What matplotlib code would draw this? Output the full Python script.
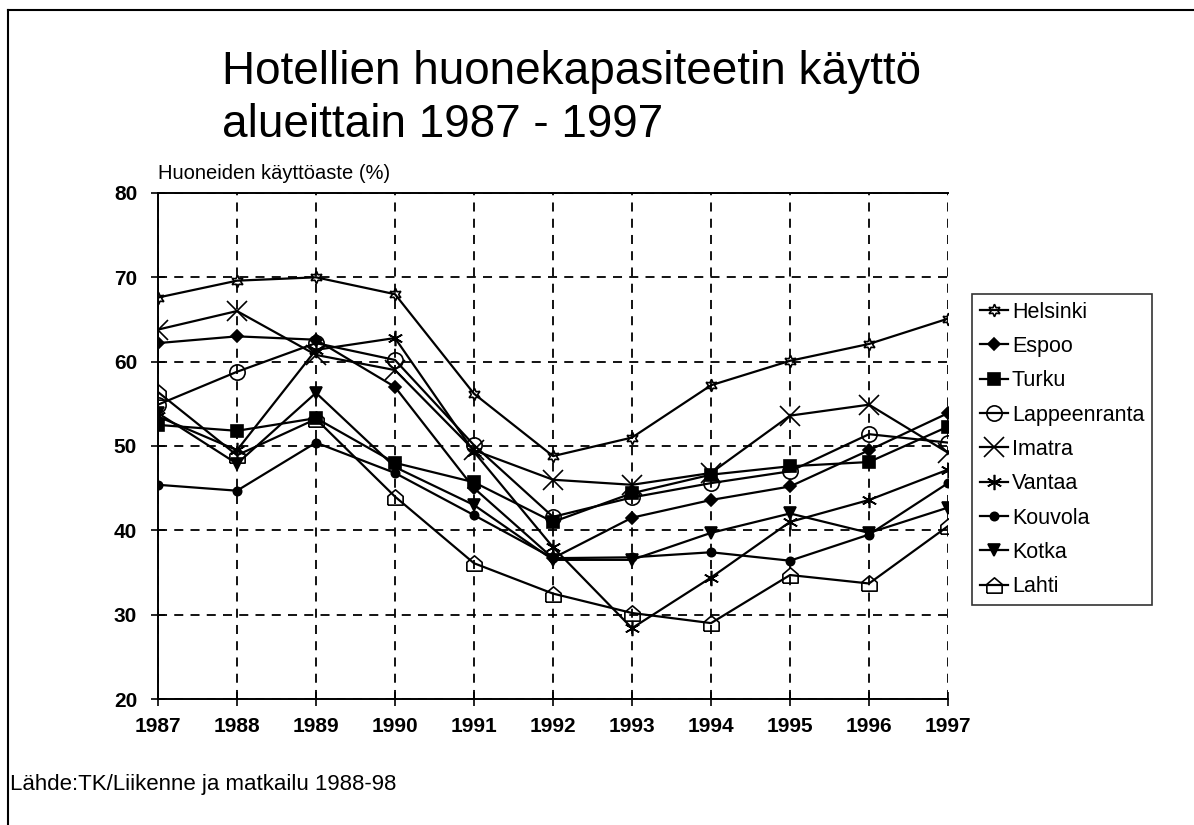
import numpy as np
import matplotlib
matplotlib.use("Agg")
import matplotlib.pyplot as plt
from matplotlib.lines import Line2D

plt.rcParams['font.family'] = ['Liberation Sans', 'DejaVu Sans']

# vuodet ja alueiden käyttöasteet (%)
vuodet = [1987, 1988, 1989, 1990, 1991, 1992, 1993, 1994, 1995, 1996, 1997]
helsinki = [67.6, 69.6, 70.0, 68.0, 56.2, 48.8, 51.0, 57.2, 60.1, 62.1, 65.1]
espoo = [62.2, 63.0, 62.6, 57.0, 45.0, 36.7, 41.5, 43.6, 45.2, 49.5, 53.9]
turku = [52.5, 51.8, 53.3, 48.0, 45.7, 41.0, 44.4, 46.6, 47.6, 48.1, 52.3]
lappeenranta = [54.9, 58.8, 62.2, 60.2, 50.1, 41.6, 43.9, 45.6, 47.0, 51.4, 50.4]
imatra = [63.8, 66.0, 60.8, 59.0, 49.5, 46.0, 45.4, 46.8, 53.6, 54.9, 49.2]
vantaa = [53.5, 49.5, 61.4, 62.8, 49.3, 38.0, 28.4, 34.4, 41.0, 43.6, 47.2]
kouvola = [45.4, 44.7, 50.4, 46.8, 41.8, 36.7, 36.8, 37.4, 36.4, 39.5, 45.6]
kotka = [53.9, 47.9, 56.3, 47.5, 43.0, 36.5, 36.5, 39.7, 42.0, 39.7, 42.7]
lahti = [56.4, 48.9, 53.2, 44.0, 36.1, 32.5, 30.2, 29.0, 34.7, 33.7, 40.5]

alueet = ["Helsinki", "Espoo", "Turku", "Lappeenranta", "Imatra",
          "Vantaa", "Kouvola", "Kotka", "Lahti"]
sarjat = [helsinki, espoo, turku, lappeenranta, imatra, vantaa, kouvola, kotka, lahti]

# talon muotoinen merkki Lahdelle
talo = [(-1, -1), (1, -1), (1, 0.15), (0, 1), (-1, 0.15), (-1, -1)]

# merkit: (muoto, koko, täyttö)
merkit = [
    ((6, 1, 0), 9, 'none'),
    ('D', 6, 'black'),
    ('s', 9, 'black'),
    ('o', 11, 'none'),
    ('x', 14, 'none'),
    ((6, 2, 0), 11, 'none'),
    ('o', 6, 'black'),
    ('v', 9, 'black'),
    (talo, 11, 'none'),
]

fig = plt.figure(figsize=(11.94, 8.25), dpi=100)
ax = fig.add_axes([0.1323, 0.1527, 0.6617, 0.6134])

for nimi, arvot, (m, ms, fc) in zip(alueet, sarjat, merkit):
    ax.plot(vuodet, arvot, color='black', lw=1.6, marker=m, markersize=ms,
            markerfacecolor=fc, markeredgecolor='black', markeredgewidth=1.2,
            label=nimi)

ax.set_xlim(1987, 1997)
ax.set_ylim(20, 80)
ax.set_xticks(vuodet)
ax.set_yticks([20, 30, 40, 50, 60, 70, 80])
ax.tick_params(axis='both', labelsize=15, direction='inout', length=10, width=1.2)
ax.tick_params(axis='x', pad=8)
ax.tick_params(axis='y', pad=10)
for lbl in ax.get_xticklabels() + ax.get_yticklabels():
    lbl.set_fontweight('bold')
ax.grid(True, color='black', linestyle=(0, (5, 4)), lw=1.3)
ax.spines['right'].set_visible(False)
for s in ['left', 'bottom', 'top']:
    ax.spines[s].set_linewidth(1.4)

ax.text(0.0, 1.02, "Huoneiden käyttöaste (%)", transform=ax.transAxes,
        fontsize=14.5, ha='left', va='bottom')

# selite
leg = fig.legend(loc='upper left', bbox_to_anchor=(972 / 1194, 1 - 294 / 825),
                 frameon=True, fontsize=15.5, handlelength=1.3, handletextpad=0.2,
                 borderpad=0.35, labelspacing=0.62, borderaxespad=0, fancybox=False)
leg.get_frame().set_edgecolor('black')
leg.get_frame().set_linewidth(1.2)

# otsikko kahdella rivillä
fig.text(222 / 1194, 1 - 84 / 825, "Hotellien huonekapasiteetin käyttö",
         fontsize=33, ha='left', va='baseline')
fig.text(222 / 1194, 1 - 137 / 825, "alueittain 1987 - 1997",
         fontsize=33, ha='left', va='baseline')
fig.text(10 / 1194, 1 - 790 / 825, "Lähde:TK/Liikenne ja matkailu 1988-98", fontsize=16,
         ha='left', va='baseline')

# kehys ylä- ja vasemmassa reunassa
fig.add_artist(Line2D([8 / 1194, 1], [1 - 10 / 825, 1 - 10 / 825], color='black', lw=1.5))
fig.add_artist(Line2D([8 / 1194, 8 / 1194], [0, 1 - 10 / 825], color='black', lw=1.5))

fig.savefig("out.png", dpi=100)
